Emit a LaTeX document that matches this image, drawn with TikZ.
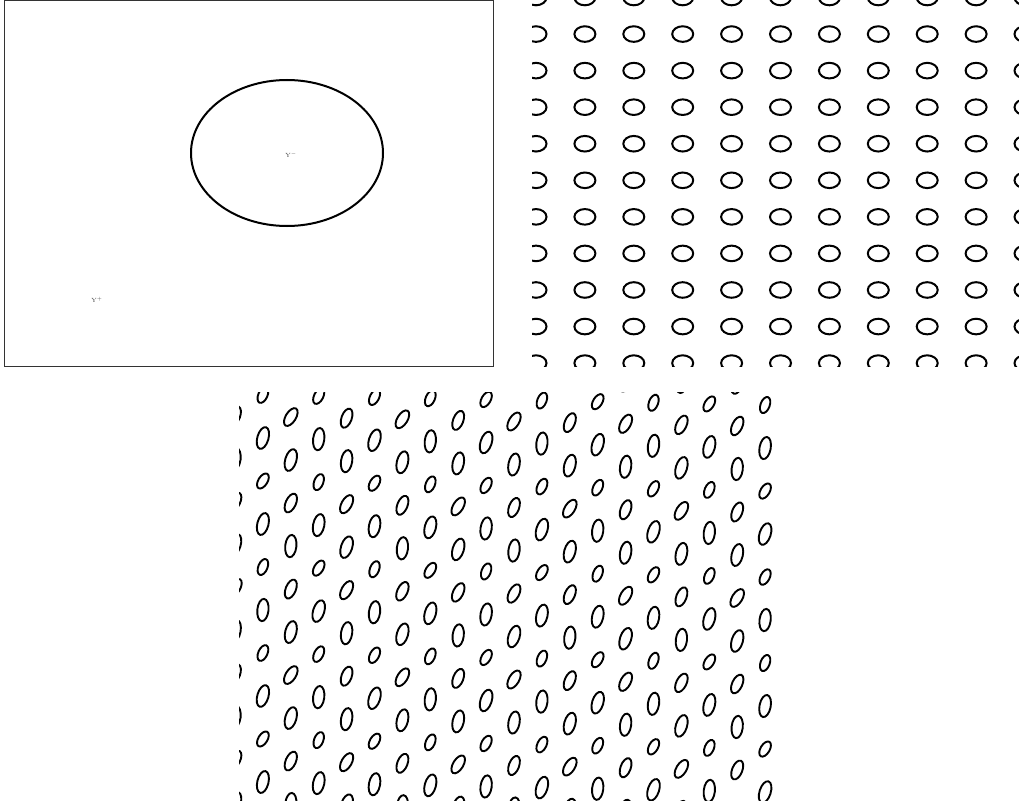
\documentclass[tikz,border=0pt]{standalone}
\usetikzlibrary{positioning}

\begin{document}
\begin{tikzpicture}[
  x=1pt, y=1pt,
  frame/.style={draw=black!80, line width=0.8pt},
  blob/.style={draw, line width=2pt},
  dot/.style={draw, line width=2pt},
  lbl/.style={font=\fontsize{6}{7}\selectfont, text=black!75, inner sep=0pt},
]

  % --- page size ---
  \useasboundingbox (0,0) rectangle (1019,-805);

  % ======== (1) Field panel ========
  \draw[frame] (4,-0.5) rectangle (493,-366.5);
  \draw[blob] (287,-153) ellipse [x radius=96, y radius=73];
  \node[lbl] (yminus) at (291,-155) {$\mathrm{Y}^{-}$};
  \node[lbl] (yplus)  at (97,-300)  {$\mathrm{Y}^{+}$};

  % ======== (2) Regular lattice ========
  \begin{scope}
    \clip (532,0) rectangle (1019,-366);
    \foreach \i in {0,...,10}
      \foreach \j in {0,...,10}
        \draw[dot] ({536+48.9*\i},{2.5-36.56*\j})
          ellipse [x radius=10.5, y radius=7.8];
  \end{scope}

  % ======== (3) Sheared lattice ========
  \begin{scope}
    \clip (239,-392) rectangle (776,-800);
    \foreach \i in {0,...,19}
      \foreach \j in {0,...,11} {
        \pgfmathsetmacro{\px}{235+27.9*\i}
        \pgfmathsetmacro{\odd}{mod(\i+1,2)}
        \pgfmathsetmacro{\py}{352+21.5*\odd+43*\j+0.02*(\px-263)}
        \pgfmathsetmacro{\big}{mod(\j,2)==0 ? 1 : 0}
        \pgfmathsetmacro{\rx}{\big ? 5.6 : 4.6 + 0.5*\odd}
        \pgfmathsetmacro{\ry}{\big ? 11.2 : 8.4 + 1.6*\odd}
        \pgfmathsetmacro{\rot}{(\big ? -12 : -26) + 6*sin(97*\i+61*\j)}
        \draw[dot, line width=1.9pt, rotate around={\rot:(\px,-\py)}]
          (\px,-\py) ellipse [x radius=\rx, y radius=\ry];
      }
  \end{scope}

\end{tikzpicture}
\end{document}
